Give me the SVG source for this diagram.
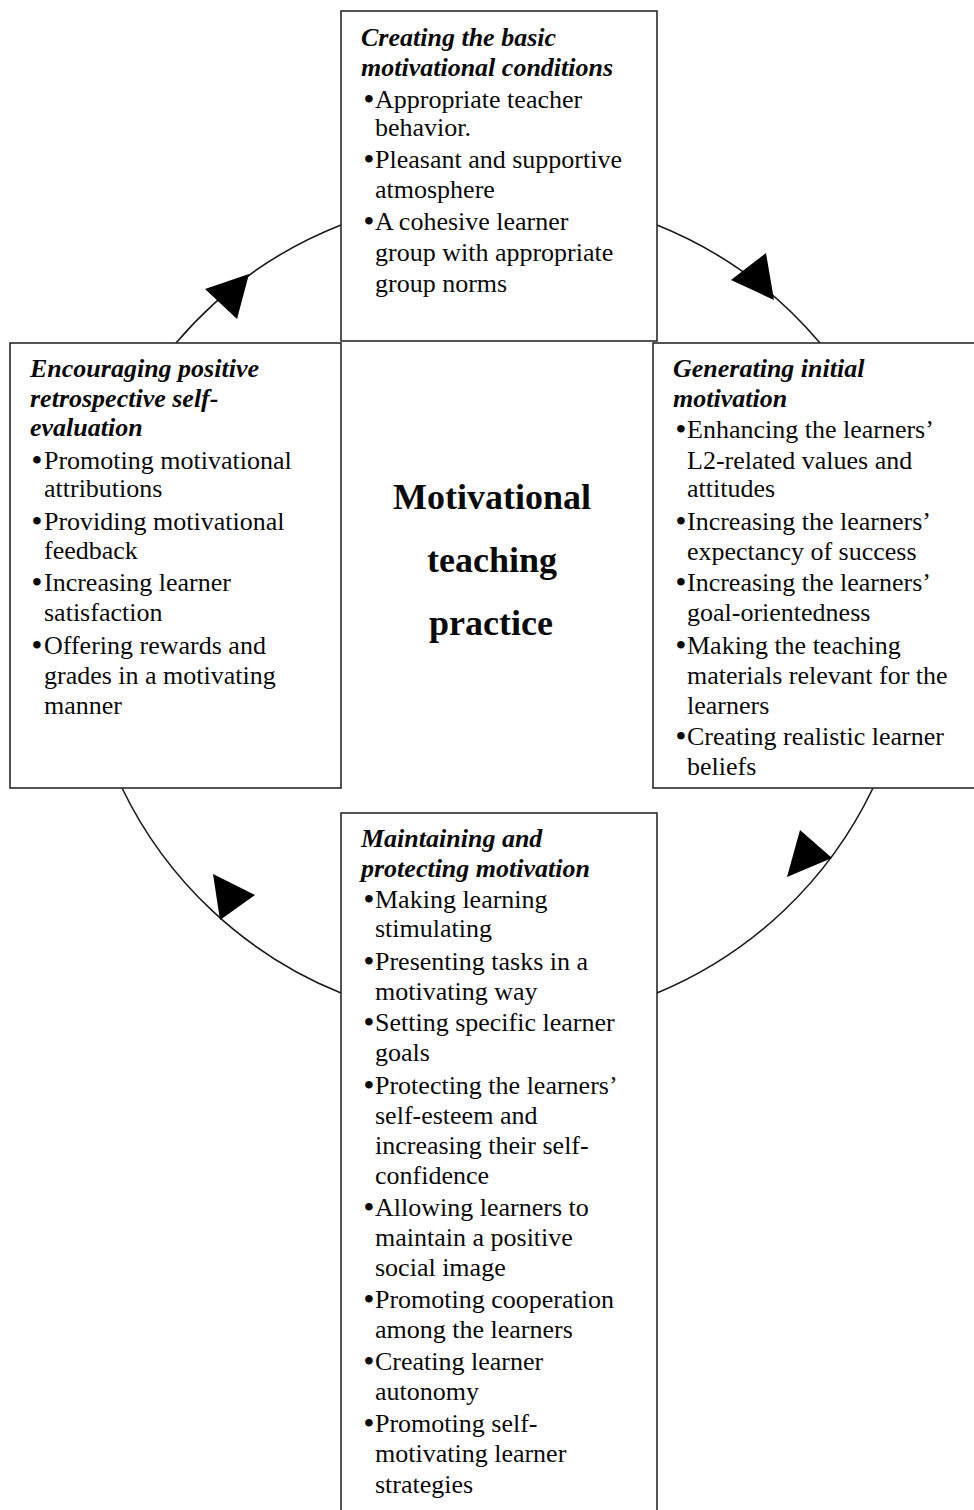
<svg xmlns="http://www.w3.org/2000/svg" width="974" height="1510" viewBox="0 0 974 1510">
<style>
.box{fill:#fff;stroke:#2a2a2a;stroke-width:1.6}
.arc{fill:none;stroke:#1a1a1a;stroke-width:1.6}
.head{fill:#000}
text{font-family:"Liberation Serif","Times New Roman",serif;font-size:26px;fill:#0a0a0a}
.t{font-weight:bold;font-style:italic}
.b{font-weight:bold;font-size:28px}
.c{font-weight:bold;font-size:36px;text-anchor:middle}
</style>
<rect width="974" height="1510" fill="#fff"/>
<g id="connectors">
<path class="arc" d="M 176 343 A 416 416 0 0 1 341 225"/>
<path class="arc" d="M 657 225 A 416 416 0 0 1 820 343"/>
<path class="arc" d="M 873 788 A 416 416 0 0 1 657 993"/>
<path class="arc" d="M 341 993 A 416 416 0 0 1 122 788"/>
<polygon class="head" points="249,274 205,289 237,319"/>
<polygon class="head" points="774,300 766,253 731,280"/>
<polygon class="head" points="787,877 800,830 832,858"/>
<polygon class="head" points="255,895 213,874 220,920"/>
</g>
<g id="node-top">
<rect class="box" x="341" y="11" width="316" height="330"/>
<text class="t" x="361" y="46">Creating the basic</text>
<text class="t" x="361" y="76">motivational conditions</text>
<text class="b" x="364" y="108">•</text><text x="375" y="108">Appropriate teacher</text>
<text x="375" y="136">behavior.</text>
<text class="b" x="364" y="168">•</text><text x="375" y="168">Pleasant and supportive</text>
<text x="375" y="198">atmosphere</text>
<text class="b" x="364" y="230">•</text><text x="375" y="230">A cohesive learner</text>
<text x="375" y="261">group with appropriate</text>
<text x="375" y="292">group norms</text>
</g>
<g id="node-left">
<rect class="box" x="10" y="343" width="331" height="445"/>
<text class="t" x="30" y="377">Encouraging positive</text>
<text class="t" x="30" y="407">retrospective self-</text>
<text class="t" x="30" y="436">evaluation</text>
<text class="b" x="32" y="469">•</text><text x="44" y="469">Promoting motivational</text>
<text x="44" y="497">attributions</text>
<text class="b" x="32" y="530">•</text><text x="44" y="530">Providing motivational</text>
<text x="44" y="559">feedback</text>
<text class="b" x="32" y="591">•</text><text x="44" y="591">Increasing learner</text>
<text x="44" y="621">satisfaction</text>
<text class="b" x="32" y="654">•</text><text x="44" y="654">Offering rewards and</text>
<text x="44" y="684">grades in a motivating</text>
<text x="44" y="714">manner</text>
</g>
<g id="node-right">
<rect class="box" x="653" y="343" width="330" height="445"/>
<text class="t" x="673" y="377">Generating initial</text>
<text class="t" x="673" y="407">motivation</text>
<text class="b" x="676" y="438">•</text><text x="687" y="438">Enhancing the learners’</text>
<text x="687" y="469">L2-related values and</text>
<text x="687" y="497">attitudes</text>
<text class="b" x="676" y="530">•</text><text x="687" y="530">Increasing the learners’</text>
<text x="687" y="560">expectancy of success</text>
<text class="b" x="676" y="591">•</text><text x="687" y="591">Increasing the learners’</text>
<text x="687" y="621">goal-orientedness</text>
<text class="b" x="676" y="654">•</text><text x="687" y="654">Making the teaching</text>
<text x="687" y="684">materials relevant for the</text>
<text x="687" y="714">learners</text>
<text class="b" x="676" y="745">•</text><text x="687" y="745">Creating realistic learner</text>
<text x="687" y="775">beliefs</text>
</g>
<g id="node-center">
<text class="c" x="492" y="509">Motivational</text>
<text class="c" x="492" y="572">teaching</text>
<text class="c" x="491" y="635">practice</text>
</g>
<g id="node-bottom">
<rect class="box" x="341" y="813" width="316" height="710"/>
<text class="t" x="361" y="847">Maintaining and</text>
<text class="t" x="361" y="877">protecting motivation</text>
<text class="b" x="364" y="908">•</text><text x="375" y="908">Making learning</text>
<text x="375" y="937">stimulating</text>
<text class="b" x="364" y="970">•</text><text x="375" y="970">Presenting tasks in a</text>
<text x="375" y="1000">motivating way</text>
<text class="b" x="364" y="1031">•</text><text x="375" y="1031">Setting specific learner</text>
<text x="375" y="1061">goals</text>
<text class="b" x="364" y="1094">•</text><text x="375" y="1094">Protecting the learners’</text>
<text x="375" y="1124">self-esteem and</text>
<text x="375" y="1154">increasing their self-</text>
<text x="375" y="1184">confidence</text>
<text class="b" x="364" y="1216">•</text><text x="375" y="1216">Allowing learners to</text>
<text x="375" y="1246">maintain a positive</text>
<text x="375" y="1276">social image</text>
<text class="b" x="364" y="1308">•</text><text x="375" y="1308">Promoting cooperation</text>
<text x="375" y="1338">among the learners</text>
<text class="b" x="364" y="1370">•</text><text x="375" y="1370">Creating learner</text>
<text x="375" y="1400">autonomy</text>
<text class="b" x="364" y="1432">•</text><text x="375" y="1432">Promoting self-</text>
<text x="375" y="1462">motivating learner</text>
<text x="375" y="1493">strategies</text>
</g>
</svg>
